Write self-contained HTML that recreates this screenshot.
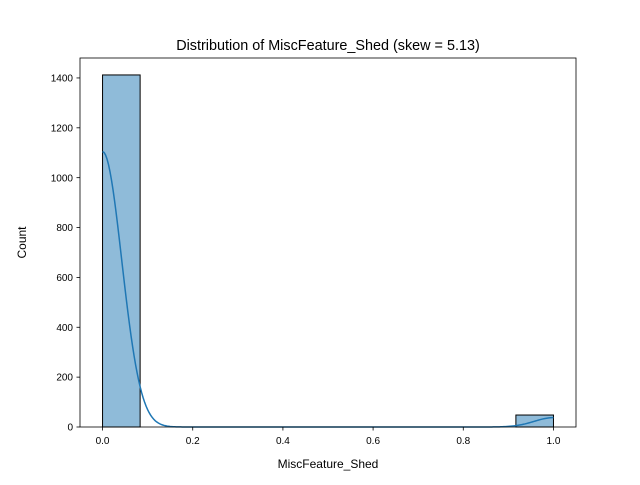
<!DOCTYPE html>
<html><head><meta charset="utf-8"><style>
body{margin:0;background:#fff;}
svg text{font-family:"Liberation Sans","DejaVu Sans",sans-serif;fill:#000;}
</style></head><body>
<svg id="chart" width="640" height="480" xmlns="http://www.w3.org/2000/svg">
<rect width="640" height="480" fill="#fff"/>
<text x="328" y="50" font-size="14.4" text-anchor="middle">Distribution of MiscFeature_Shed (skew = 5.13)</text>
<g id="bars"></g>
<path id="kde" fill="none" stroke="#1f77b4" stroke-width="1.5"/>
<rect x="80" y="58" width="496" height="369" fill="none" stroke="#000" stroke-width="0.8"/>
<g id="xticks"></g><g id="yticks"></g>
<text x="328" y="468" font-size="12" text-anchor="middle">MiscFeature_Shed</text>
<text transform="translate(26,242.5) rotate(-90)" font-size="12" text-anchor="middle">Count</text>
</svg>
<script>
const binEdgesStart = [0, 0.9167];
const binCounts = [1412, 48];
const binWidth = 1/12;
const kdeValues = [0, 1];
const kdeWeights = [1412, 48];
const kdeBandwidth = 0.0425;
const xTickLabels = ["0.0","0.2","0.4","0.6","0.8","1.0"];
const xTickValues = [0,0.2,0.4,0.6,0.8,1.0];
const yTickValues = [0,200,400,600,800,1000,1200,1400];

const X0=80,X1=576,Y0=427,Y1=58,xmin=-0.05,xmax=1.05,ymin=0,ymax=1480;
const sx=v=>X0+(v-xmin)/(xmax-xmin)*(X1-X0);
const sy=v=>Y0-(v-ymin)/(ymax-ymin)*(Y0-Y1);
const NS="http://www.w3.org/2000/svg";
const bars=document.getElementById('bars');
binEdgesStart.forEach((s,i)=>{
  const r=document.createElementNS(NS,'rect');
  r.setAttribute('x',sx(s));r.setAttribute('y',sy(binCounts[i]));
  r.setAttribute('width',sx(s+binWidth)-sx(s));r.setAttribute('height',sy(0)-sy(binCounts[i]));
  r.setAttribute('fill','rgba(31,119,180,0.5)');r.setAttribute('stroke','#000');r.setAttribute('stroke-width','1');
  
  
  bars.appendChild(r);
});
const N=kdeWeights.reduce((a,b)=>a+b,0);
let d='';
for(let k=0;k<=300;k++){
  const x=k/300; let dens=0;
  kdeValues.forEach((v,i)=>{dens+=kdeWeights[i]/N*Math.exp(-0.5*((x-v)/kdeBandwidth)**2)/(kdeBandwidth*Math.sqrt(2*Math.PI));});
  const c=dens*N*binWidth;
  d+=(k?'L':'M')+sx(x).toFixed(2)+','+sy(c).toFixed(2);
}
document.getElementById('kde').setAttribute('d',d);
const xt=document.getElementById('xticks');
xTickValues.forEach((v,i)=>{
  const l=document.createElementNS(NS,'line');
  l.setAttribute('x1',sx(v));l.setAttribute('x2',sx(v));l.setAttribute('y1',Y0);l.setAttribute('y2',Y0+3.5);l.setAttribute('stroke','#000');l.setAttribute('stroke-width','0.8');
  
  
  xt.appendChild(l);
  const t=document.createElementNS(NS,'text');
  t.setAttribute('x',sx(v));t.setAttribute('y',Y0+17);t.setAttribute('font-size','10');t.setAttribute('text-anchor','middle');
  t.textContent=xTickLabels[i];
  
  
  xt.appendChild(t);
});
const yt=document.getElementById('yticks');
yTickValues.forEach(v=>{
  const l=document.createElementNS(NS,'line');
  l.setAttribute('x1',X0-3.5);l.setAttribute('x2',X0);l.setAttribute('y1',sy(v));l.setAttribute('y2',sy(v));l.setAttribute('stroke','#000');l.setAttribute('stroke-width','0.8');
  
  
  yt.appendChild(l);
  const t=document.createElementNS(NS,'text');
  t.setAttribute('x',X0-7);t.setAttribute('y',sy(v)+3.6);t.setAttribute('font-size','10');t.setAttribute('text-anchor','end');
  t.textContent=String(v);
  
  
  yt.appendChild(t);
});
</script>
</body></html>
